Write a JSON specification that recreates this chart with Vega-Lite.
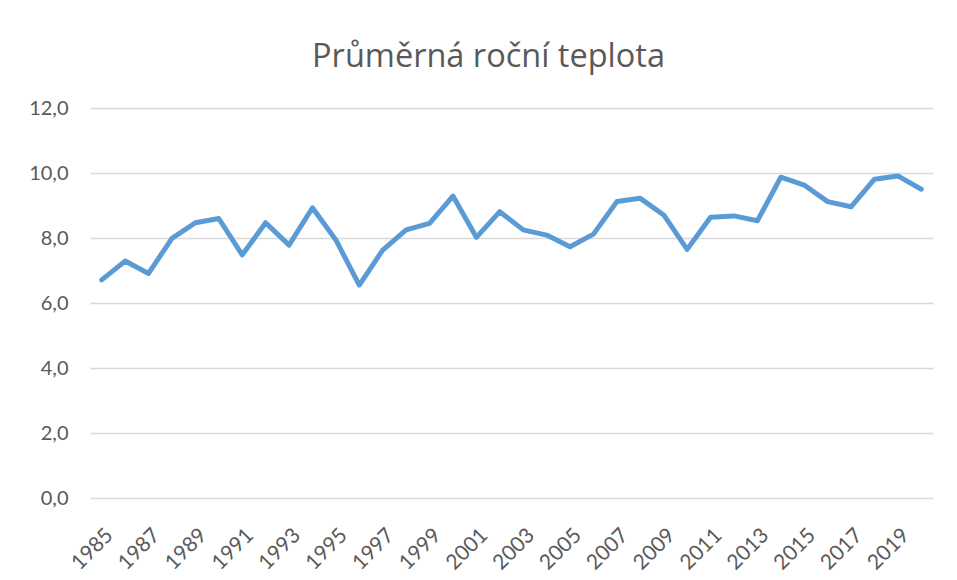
{
  "$schema": "https://vega.github.io/schema/vega-lite/v6.json",
  "width": 843,
  "height": 390,
  "autosize": {"type": "none"},
  "padding": {"left": 90, "top": 108, "right": 24, "bottom": 82},
  "background": "white",
  "title": {
    "text": "Průměrná roční teplota",
    "font": "Open Sans",
    "fontSize": 32.5,
    "fontWeight": "normal",
    "color": "#595959",
    "anchor": "middle",
    "frame": "group",
    "dx": -23,
    "offset": 25
  },
  "data": {
    "values": [
      {"rok": 1985, "teplota": 6.71},
      {"rok": 1986, "teplota": 7.29},
      {"rok": 1987, "teplota": 6.91},
      {"rok": 1988, "teplota": 7.99},
      {"rok": 1989, "teplota": 8.47},
      {"rok": 1990, "teplota": 8.60},
      {"rok": 1991, "teplota": 7.48},
      {"rok": 1992, "teplota": 8.47},
      {"rok": 1993, "teplota": 7.78},
      {"rok": 1994, "teplota": 8.93},
      {"rok": 1995, "teplota": 7.94},
      {"rok": 1996, "teplota": 6.55},
      {"rok": 1997, "teplota": 7.63},
      {"rok": 1998, "teplota": 8.25},
      {"rok": 1999, "teplota": 8.45},
      {"rok": 2000, "teplota": 9.29},
      {"rok": 2001, "teplota": 8.02},
      {"rok": 2002, "teplota": 8.81},
      {"rok": 2003, "teplota": 8.25},
      {"rok": 2004, "teplota": 8.09},
      {"rok": 2005, "teplota": 7.73},
      {"rok": 2006, "teplota": 8.12},
      {"rok": 2007, "teplota": 9.12},
      {"rok": 2008, "teplota": 9.22},
      {"rok": 2009, "teplota": 8.71},
      {"rok": 2010, "teplota": 7.65},
      {"rok": 2011, "teplota": 8.64},
      {"rok": 2012, "teplota": 8.68},
      {"rok": 2013, "teplota": 8.53},
      {"rok": 2014, "teplota": 9.87},
      {"rok": 2015, "teplota": 9.63},
      {"rok": 2016, "teplota": 9.12},
      {"rok": 2017, "teplota": 8.96},
      {"rok": 2018, "teplota": 9.81},
      {"rok": 2019, "teplota": 9.91},
      {"rok": 2020, "teplota": 9.50}
    ]
  },
  "mark": {"type": "line", "color": "#5B9BD5", "strokeWidth": 5, "strokeJoin": "round", "strokeCap": "round"},
  "encoding": {
    "x": {
      "field": "rok",
      "type": "ordinal",
      "scale": {"type": "point", "padding": 0.5},
      "axis": {
        "title": null,
        "values": [1985,1987,1989,1991,1993,1995,1997,1999,2001,2003,2005,2007,2009,2011,2013,2015,2017,2019],
        "labelAngle": -45,
        "labelFont": "Lato",
        "labelFontSize": 21,
        "labelColor": "#595959",
        "labelPadding": 26,
        "labelOverlap": false,
        "ticks": false,
        "domain": false,
        "grid": false
      }
    },
    "y": {
      "field": "teplota",
      "type": "quantitative",
      "scale": {"domain": [0, 12]},
      "axis": {
        "title": null,
        "values": [0, 2, 4, 6, 8, 10, 12],
        "labelExpr": "replace(format(datum.value, '.1f'), '.', ',')",
        "labelFont": "Lato",
        "labelFontSize": 20,
        "labelColor": "#595959",
        "labelPadding": 22,
        "ticks": false,
        "domain": false,
        "grid": true,
        "gridColor": "#d9d9d9",
        "gridWidth": 1.5
      }
    }
  },
  "config": {"view": {"stroke": null}}
}
